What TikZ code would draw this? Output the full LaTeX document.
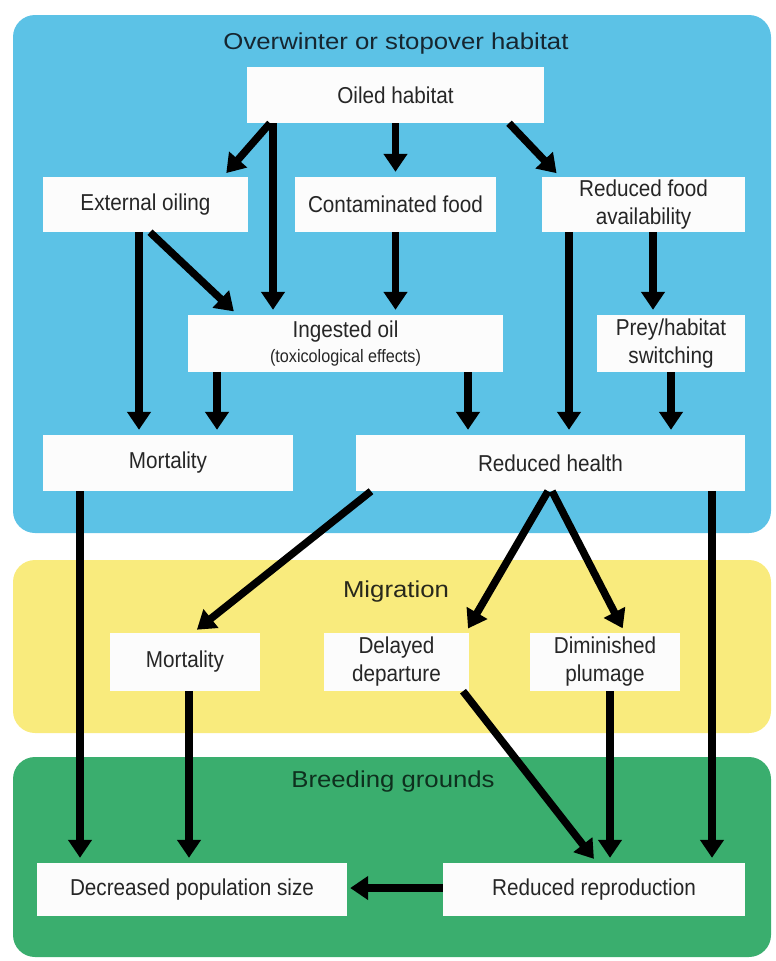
\documentclass[tikz,border=0pt]{standalone}
\usepackage{fontspec}
\setmainfont{Liberation Sans}
\newfontfamily\boxfont{Liberation Sans}[FakeStretch=0.9]
\newfontfamily\titlefont{Liberation Sans}[FakeStretch=1.12]
\usetikzlibrary{arrows.meta}
\definecolor{panelblue}{RGB}{92,194,230}
\definecolor{panelyellow}{RGB}{249,235,125}
\definecolor{panelgreen}{RGB}{58,174,110}
\definecolor{boxtext}{RGB}{38,38,38}
\definecolor{titleblue}{RGB}{22,38,48}
\definecolor{titleyellow}{RGB}{40,40,28}
\definecolor{titlegreen}{RGB}{14,48,30}
\definecolor{boxwhite}{RGB}{252,252,252}
\begin{document}
\begin{tikzpicture}[x=1pt,y=-1pt,
  panel/.style={rounded corners=22pt},
  box/.style={rectangle, fill=boxwhite, inner sep=0pt, align=center,
    text=boxtext, font=\boxfont\fontsize{23}{28}\selectfont},
  paneltitle/.style={inner sep=0pt, font=\titlefont\fontsize{23}{28}\selectfont},
  arr/.style={line width=7.5pt, black, -{Triangle[width=23pt,length=18pt]}, shorten >=5pt},
]
\useasboundingbox (0,0) rectangle (776,961);
% panels
\fill[panel, panelblue] (13,15) rectangle (771,533);
\fill[panel, panelyellow] (13,560) rectangle (771,733);
\fill[panel, panelgreen] (13,757) rectangle (771,957);
% panel titles
\node[paneltitle, text=titleblue] (t1) at (396,44) {Overwinter or stopover habitat};
\node[paneltitle, text=titleyellow] (t2) at (396,592) {Migration};
\node[paneltitle, text=titlegreen] (t3) at (393,782) {Breeding grounds};
% boxes
\node[box, minimum width=297pt, minimum height=56pt] (oiled) at (395.5,95) {Oiled habitat};
\node[box, minimum width=205pt, minimum height=55pt] (ext) at (145.5,204.5) {External oiling};
\node[box, minimum width=201pt, minimum height=55pt] (cont) at (395.5,204.5) {Contaminated food};
\node[box, minimum width=203pt, minimum height=55pt] (rfood) at (643.5,204.5) {Reduced food\\[0pt]availability};
\node[box, minimum width=315pt, minimum height=57pt] (ing) at (345.5,343.5) {Ingested oil\\[-3pt]{\fontsize{18}{20}\selectfont (toxicological effects)}};
\node[box, minimum width=148pt, minimum height=57pt] (prey) at (671,343.5) {Prey/habitat\\[0pt]switching};
\node[box, minimum width=250pt, minimum height=56pt] (mort1) at (168,463) {Mortality};
\node[box, minimum width=389pt, minimum height=56pt] (rhealth) at (550.5,463) {Reduced health};
\node[box, minimum width=150pt, minimum height=58pt] (mort2) at (185,662) {Mortality};
\node[box, minimum width=145pt, minimum height=58pt] (delay) at (396.5,662) {Delayed\\[0pt]departure};
\node[box, minimum width=150pt, minimum height=58pt] (dimin) at (605,662) {Diminished\\[0pt]plumage};
\node[box, minimum width=310pt, minimum height=53pt] (decpop) at (192,889.5) {Decreased population size};
\node[box, minimum width=302pt, minimum height=53pt] (rrepro) at (594,889.5) {Reduced reproduction};
% arrows: overwinter panel
\draw[arr] ([xshift=-125.5pt]oiled.south) -- ([xshift=77.5pt]ext.north);
\draw[arr] ([xshift=-122.5pt]oiled.south) -- ([xshift=-72.5pt]ing.north);
\draw[arr] (oiled.south) -- (cont.north);
\draw[arr] ([xshift=113.5pt]oiled.south) -- ([xshift=-83.5pt]rfood.north);
\draw[arr] ([xshift=4.5pt]ext.south) -- ([xshift=-108pt]ing.north);
\draw[arr] ([xshift=-6.5pt]ext.south) -- ([xshift=-29pt]mort1.north);
\draw[arr] (cont.south) -- ([xshift=50pt]ing.north);
\draw[arr] ([xshift=-74.5pt]rfood.south) -- ([xshift=18.5pt]rhealth.north);
\draw[arr] ([xshift=9.5pt]rfood.south) -- ([xshift=-18pt]prey.north);
\draw[arr] ([xshift=-128.5pt]ing.south) -- ([xshift=49pt]mort1.north);
\draw[arr] ([xshift=122.5pt]ing.south) -- ([xshift=-82.5pt]rhealth.north);
\draw[arr] (prey.south) -- ([xshift=120.5pt]rhealth.north);
% arrows: to migration and breeding
\draw[arr] ([xshift=-88pt]mort1.south) -- ([xshift=-112pt]decpop.north);
\draw[arr] ([xshift=-179.5pt]rhealth.south) -- ([xshift=8pt]mort2.north);
\draw[arr] ([xshift=-2.5pt]rhealth.south) -- ([xshift=69pt]delay.north);
\draw[arr] ([xshift=1.5pt]rhealth.south) -- ([xshift=20pt]dimin.north);
\draw[arr] ([xshift=161.5pt]rhealth.south) -- ([xshift=118pt]rrepro.north);
\draw[arr] ([xshift=4pt]mort2.south) -- ([xshift=-3pt]decpop.north);
\draw[arr] ([xshift=66.5pt]delay.south) -- ([xshift=3pt]rrepro.north);
\draw[arr] ([xshift=5pt]dimin.south) -- ([xshift=16pt]rrepro.north);
\draw[arr, shorten >=3pt] ([yshift=1.5pt]rrepro.west) -- ([yshift=1.5pt]decpop.east);
\end{tikzpicture}
\end{document}
